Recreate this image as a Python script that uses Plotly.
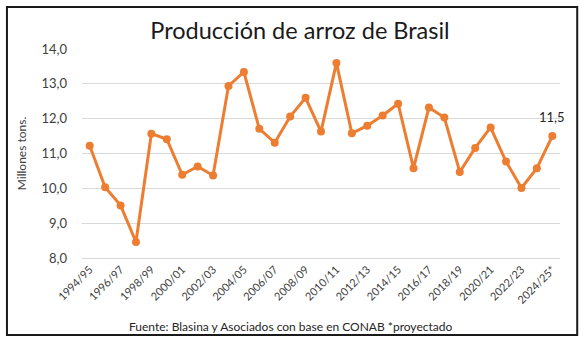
import plotly.graph_objects as go

# Campañas (zafras) de arroz en Brasil
campanas = [
    "1994/95", "1995/96", "1996/97", "1997/98", "1998/99", "1999/00",
    "2000/01", "2001/02", "2002/03", "2003/04", "2004/05", "2005/06",
    "2006/07", "2007/08", "2008/09", "2009/10", "2010/11", "2011/12",
    "2012/13", "2013/14", "2014/15", "2015/16", "2016/17", "2017/18",
    "2018/19", "2019/20", "2020/21", "2021/22", "2022/23", "2023/24",
    "2024/25*",
]

# Producción en millones de toneladas
produccion = [
    11.22, 10.03, 9.51, 8.46, 11.57, 11.41,
    10.39, 10.63, 10.37, 12.94, 13.34, 11.71,
    11.31, 12.06, 12.60, 11.63, 13.60, 11.58,
    11.80, 12.09, 12.43, 10.58, 12.32, 12.03,
    10.47, 11.16, 11.75, 10.77, 10.01, 10.58,
    11.5,
]

y_ticks = [8, 9, 10, 11, 12, 13, 14]
y_ticktext = [f"{v:.1f}".replace(".", ",") for v in y_ticks]

naranja = "#ED7D31"
fuente = "Lato, 'Open Sans', sans-serif"

fig = go.Figure()
fig.add_trace(go.Scatter(
    x=campanas,
    y=produccion,
    mode="lines+markers",
    line=dict(color=naranja, width=3),
    marker=dict(color=naranja, size=8),
    hoverinfo="x+y",
    showlegend=False,
))

# Etiqueta del último valor (proyectado)
fig.add_annotation(
    x=campanas[-1], y=produccion[-1],
    text=f"{produccion[-1]:.1f}".replace(".", ","),
    showarrow=False, yshift=19,
    font=dict(family=fuente, size=13, color="#262626"),
)

# Fuente al pie
fig.add_annotation(
    xref="paper", yref="paper", x=0.436, y=-0.33,
    text="Fuente: Blasina y Asociados con base en CONAB *proyectado",
    showarrow=False, xanchor="center", yanchor="middle",
    font=dict(family=fuente, size=12, color="#262626"),
)

# Marco del gráfico
fig.add_shape(
    type="rect", xref="paper", yref="paper",
    x0=-0.157, x1=1.036, y0=-0.368, y1=1.201,
    line=dict(color="#1a1a1a", width=2),
)

fig.update_layout(
    width=585, height=342,
    margin=dict(l=82, r=25, t=49, b=84),
    paper_bgcolor="white",
    plot_bgcolor="white",
    font=dict(family=fuente, color="#404040"),
    title=dict(
        text="Producción de arroz de Brasil",
        x=0.456, xref="paper", xanchor="center",
        y=0.91, yanchor="middle",
        font=dict(family=fuente, size=23.5, color="#1a1a1a"),
    ),
    xaxis=dict(
        type="category",
        range=[-0.5, 30.5],
        tickvals=campanas[::2],
        ticktext=campanas[::2],
        tickangle=-45,
        tickfont=dict(family=fuente, size=11, color="#404040"),
        showgrid=False,
        showline=True, linecolor="#d9d9d9", linewidth=1,
        ticks="",
    ),
    yaxis=dict(
        range=[8, 14],
        tickvals=y_ticks,
        ticktext=y_ticktext,
        tickfont=dict(family=fuente, size=13, color="#404040"),
        showgrid=True, gridcolor="#d9d9d9", gridwidth=1,
        zeroline=False, showline=False,
        ticks="", ticklabelstandoff=14,
        title=dict(
            text="Millones tons.",
            font=dict(family=fuente, size=12, color="#404040"),
            standoff=12,
        ),
    ),
)

fig.write_html("out.html")
